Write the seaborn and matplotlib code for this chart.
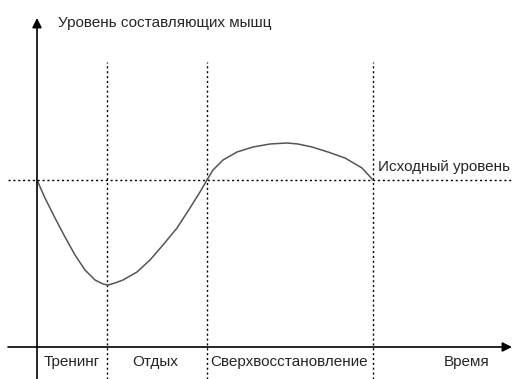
import matplotlib
matplotlib.use("Agg")
import matplotlib.pyplot as plt
import seaborn as sns
import pandas as pd

# time (t) and muscle level (L); 0,0 is where the axes cross
curve_t = [0.0, 0.8, 1.8, 2.8, 3.8, 4.8, 5.8, 6.6, 7.1, 7.8, 8.6, 10.0, 11.3,
           12.6, 14.0, 15.3, 16.3, 17.0, 17.6, 18.6, 20.0, 21.6, 23.3, 25.0,
           26.1, 27.5, 29.1, 30.8, 32.5, 33.6]
curve_level = [16.7, 14.9, 12.9, 11.0, 9.2, 7.7, 6.7, 6.3, 6.2, 6.4, 6.7, 7.5, 8.7,
               10.2, 11.9, 13.9, 15.5, 16.7, 17.7, 18.7, 19.5, 20.0, 20.3, 20.4,
               20.3, 20.0, 19.5, 18.9, 17.9, 16.7]
phase_edges = [7.0, 17.0, 33.6]
phase_names = ["Тренинг", "Отдых", "Сверхвосстановление"]
phase_label_t = [3.45, 11.8, 25.25]
baseline = 16.7

df = pd.DataFrame({"t": curve_t, "level": curve_level})

sns.set_style("white")
plt.rcParams["font.family"] = ["Liberation Sans", "DejaVu Sans"]

fig = plt.figure(figsize=(5.23, 3.79), dpi=100)
ax = fig.add_axes([0, 0, 1, 1])
ax.set_xlim(-3.7, 48.6)
ax.set_ylim(-3.2, 34.7)
ax.axis("off")

# dotted guides
ax.hlines(baseline, -2.9, 47.5, colors="black", linestyles=(0, (1.5, 2)), lw=1)
ax.vlines(phase_edges, -3.2, 28.5, colors="black", linestyles=(0, (1.5, 2)), lw=1)

# axes with arrows
ax.annotate("", xy=(0, 32.9), xytext=(0, -3.2),
            arrowprops=dict(arrowstyle="-|>", color="black", lw=1.2,
                            mutation_scale=14, shrinkA=0, shrinkB=0))
ax.annotate("", xy=(47.5, 0), xytext=(-2.9, 0),
            arrowprops=dict(arrowstyle="-|>", color="black", lw=1.2,
                            mutation_scale=14, shrinkA=0, shrinkB=0))

sns.lineplot(data=df, x="t", y="level", estimator=None, sort=False,
             color="#555555", lw=1.1, ax=ax)

fs = 11
ax.text(2.1, 32.4, "Уровень составляющих мышц", fontsize=fs, va="center", ha="left")
ax.text(34.1, 18.0, "Исходный уровень", fontsize=fs, va="center", ha="left")
for t, name in zip(phase_label_t, phase_names):
    ax.text(t, -1.5, name, fontsize=fs, va="center", ha="center")
ax.text(43.0, -1.5, "Время", fontsize=fs, va="center", ha="center")

fig.savefig("out.png", dpi=100)
